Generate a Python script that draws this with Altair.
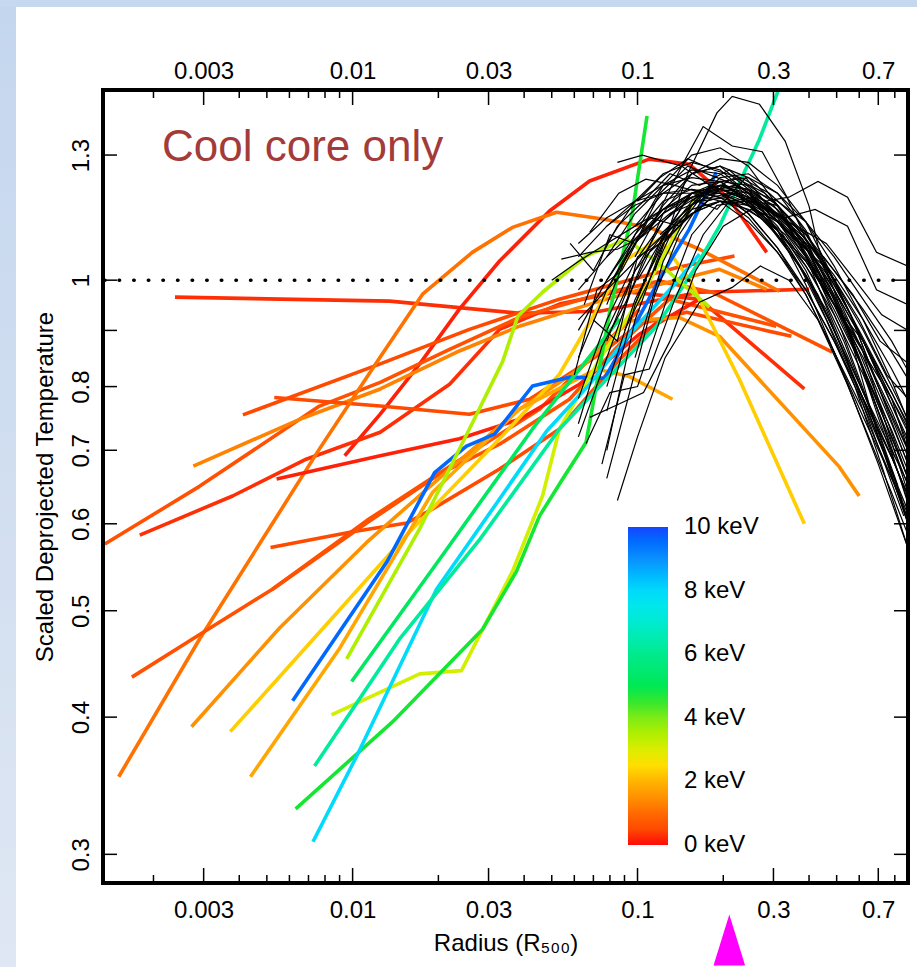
import altair as alt
import pandas as pd

# ---------------- axes / scale values ----------------
X_DOMAIN = [0.00133, 0.89]
Y_DOMAIN = [0.2825, 1.49]
X_LABELS = [0.003, 0.01, 0.03, 0.1, 0.3, 0.7]
X_MINOR = [0.002, 0.004, 0.005, 0.006, 0.007, 0.008, 0.009, 0.02, 0.04, 0.05,
           0.06, 0.07, 0.08, 0.09, 0.2, 0.4, 0.5, 0.6, 0.8]
Y_LABELS = [0.3, 0.4, 0.5, 0.6, 0.7, 0.8, 1.0, 1.3]
Y_TICKS = [0.3, 0.4, 0.5, 0.6, 0.7, 0.8, 0.9, 1.0, 1.3]
KEV_LABELS = [0.001, 2, 4, 6, 8, 9.999]   # 0 ... 10 keV (nudged inside the bar ends)
KEV_STOPS = [0, 1, 2, 2.6, 3.2, 4.6, 6, 7.8, 9, 10]
KEV_COLOURS = ["#ff0a0a", "#ff6a00", "#ffb400", "#ffe600", "#c8f000",
               "#14e632", "#00ea8c", "#00e6f5", "#0a90ff", "#1446ff"]
UNITY = [1.0]
ARROW_R = [0.21]

# ---------------- cool-core profiles: (kT keV, radius, scaled T) ----------------
cc_A = (0.2, [0.00238, 0.01348, 0.0385, 0.0736, 0.165, 0.40],
        [0.965, 0.957, 0.933, 0.937, 0.975, 0.981])
cc_B = (0.1, [0.00938, 0.0125, 0.0172, 0.0237, 0.0328, 0.0491, 0.0679, 0.110, 0.152, 0.210, 0.284],
        [0.692, 0.755, 0.839, 0.941, 1.041, 1.156, 1.231, 1.289, 1.275, 1.185, 1.06])
cc_C = (0.2, [0.00179, 0.00379, 0.00687, 0.0125, 0.0219, 0.0328, 0.0532, 0.0865, 0.165, 0.385],
        [0.586, 0.636, 0.687, 0.727, 0.804, 0.902, 0.951, 0.977, 0.961, 0.796])
cc_D = (0.6, [0.00135, 0.0029, 0.00765, 0.0125, 0.0219, 0.0385, 0.0736, 0.1195, 0.183, 0.483],
        [0.575, 0.649, 0.768, 0.807, 0.865, 0.925, 0.971, 0.998, 0.975, 0.860])
cc_E = (0.5, [0.00412, 0.0125, 0.0257, 0.0532, 0.1016, 0.140, 0.219],
        [0.754, 0.839, 0.902, 0.961, 1.006, 1.028, 1.052])
cc_F = (1.3, [0.00276, 0.00652, 0.0125, 0.0237, 0.0385, 0.0736, 0.110, 0.194, 0.284],
        [0.677, 0.747, 0.796, 0.862, 0.908, 0.957, 0.986, 1.023, 0.981])
cc_G = (0.5, [0.00531, 0.0125, 0.0257, 0.0418, 0.0736, 0.1016, 0.1486, 0.347],
        [0.782, 0.768, 0.755, 0.779, 0.856, 0.912, 0.935, 0.889])
cc_H = (1.1, [0.00151, 0.0029, 0.00765, 0.0125, 0.0176, 0.0263, 0.0364, 0.052, 0.0754, 0.110, 0.165, 0.315],
        [0.353, 0.471, 0.702, 0.851, 0.971, 1.060, 1.117, 1.153, 1.137, 1.117, 1.067, 0.977])
cc_I = (0.6, [0.00168, 0.00315, 0.00523, 0.0112, 0.0191, 0.0272, 0.0453, 0.0736, 0.1016],
        [0.435, 0.482, 0.523, 0.604, 0.661, 0.702, 0.763, 0.865, 0.941])
cc_X = (0.5, [0.00515, 0.01, 0.0155, 0.0191, 0.0328, 0.0532, 0.0865, 0.1195],
        [0.571, 0.590, 0.601, 0.619, 0.673, 0.732, 0.847, 0.922])
cc_Y = (0.6, [0.00523, 0.0112, 0.0202, 0.0328, 0.0577, 0.0865, 0.1295, 0.307],
        [0.523, 0.601, 0.666, 0.709, 0.779, 0.874, 0.961, 0.908])
cc_J = (0.1, [0.00541, 0.0125, 0.0237, 0.0385, 0.0626, 0.1016, 0.165],
        [0.659, 0.692, 0.717, 0.747, 0.804, 0.893, 0.961])
cc_K = (1.5, [0.00272, 0.00553, 0.0112, 0.0219, 0.0385, 0.0626, 0.0937, 0.140, 0.194, 0.511, 0.60],
        [0.392, 0.482, 0.577, 0.673, 0.763, 0.830, 0.918, 0.925, 0.889, 0.676, 0.636])
cc_L = (2.3, [0.00372, 0.01585, 0.0328, 0.0532, 0.0915, 0.1195, 0.152, 0.228, 0.385],
        [0.388, 0.590, 0.717, 0.821, 1.045, 1.090, 1.002, 0.812, 0.600])
cc_M = (1.8, [0.00438, 0.0090, 0.0191, 0.0385, 0.0718, 0.0937, 0.1327],
        [0.353, 0.462, 0.641, 0.763, 0.830, 0.817, 0.779])
cc_N = (9.6, [0.00616, 0.0132, 0.0194, 0.0251, 0.0315, 0.0428, 0.0577, 0.0766, 0.096, 0.1195, 0.152, 0.189],
        [0.414, 0.554, 0.668, 0.706, 0.724, 0.801, 0.816, 0.814, 0.902, 1.002, 1.113, 1.254])
cc_O = (3.1, [0.00843, 0.0172, 0.0241, 0.0364, 0.0464, 0.0532, 0.0736, 0.1016, 0.152, 0.165],
        [0.402, 0.438, 0.441, 0.543, 0.636, 0.732, 0.847, 0.961, 1.161, 1.210])
cc_P = (4.6, [0.00631, 0.0138, 0.0286, 0.0376, 0.0453, 0.0546, 0.066, 0.0798, 0.096, 0.108],
        [0.330, 0.396, 0.481, 0.543, 0.610, 0.659, 0.712, 0.935, 1.153, 1.411])
cc_Q = (8.0, [0.00726, 0.0103, 0.0197, 0.031, 0.048, 0.0679, 0.0937, 0.140, 0.165],
        [0.308, 0.368, 0.523, 0.619, 0.729, 0.804, 0.893, 1.002, 1.056])
cc_R = (6.2, [0.00735, 0.0146, 0.028, 0.0532, 0.0798, 0.1166, 0.161, 0.194, 0.268, 0.328],
        [0.361, 0.471, 0.581, 0.732, 0.818, 0.908, 1.030, 1.120, 1.344, 1.54])
cc_S = (5.2, [0.00992, 0.0202, 0.0428, 0.0626, 0.0865],
        [0.431, 0.557, 0.732, 0.830, 0.922])
cc_T = (3.5, [0.00953, 0.0172, 0.0257, 0.0336, 0.038, 0.0464, 0.066, 0.0915, 0.1195, 0.179],
        [0.452, 0.594, 0.732, 0.843, 0.927, 0.975, 1.052, 1.090, 1.034, 0.945])

COOL_CORE = [cc_A, cc_B, cc_C, cc_D, cc_E, cc_F, cc_G, cc_H, cc_I, cc_X, cc_Y,
             cc_J, cc_K, cc_L, cc_M, cc_N, cc_O, cc_P, cc_Q, cc_R, cc_S, cc_T]

# ---------------- comparison sample (thin black) on a common radial grid ----------------
GRID = [0.05, 0.062, 0.078, 0.098, 0.123, 0.155, 0.195, 0.245, 0.31, 0.39, 0.49, 0.62, 0.78, 0.98]
b01 = [None, None, 0.98, 1.08, 1.16, 1.22, 1.23, 1.18, 1.11, 1.03, 0.93, 0.82, 0.71, 0.61]
b02 = [None, 0.90, 1.00, 1.10, 1.18, 1.21, 1.20, 1.15, 1.07, 0.98, 0.88, 0.77, 0.67, 0.58]
b03 = [None, None, 1.05, 1.15, 1.22, 1.26, 1.25, 1.20, 1.13, 1.05, 0.95, 0.85, 0.74, 0.64]
b04 = [None, None, None, 0.95, 1.10, 1.20, 1.22, 1.19, 1.12, 1.02, 0.90, 0.78, 0.67, 0.56]
b05 = [1.00, 1.04, 1.08, 1.12, 1.16, 1.19, 1.20, 1.17, 1.11, 1.04, 0.95, 0.88, 0.77, 0.68]
b06 = [None, 0.72, 0.85, 1.00, 1.15, 1.25, 1.27, 1.21, 1.11, 0.99, 0.86, 0.74, 0.64, 0.55]
b07 = [None, None, 1.12, 1.18, 1.22, 1.24, 1.23, 1.18, 1.10, 1.01, 0.90, 0.79, 0.70, 0.62]
b08 = [None, None, 0.70, 0.92, 1.08, 1.17, 1.21, 1.20, 1.15, 1.08, 0.98, 0.88, 0.79, 0.70]
b09 = [None, 1.05, 1.12, 1.17, 1.20, 1.21, 1.19, 1.14, 1.06, 0.97, 0.86, 0.76, 0.66, 0.57]
b10 = [None, None, 0.88, 1.02, 1.13, 1.20, 1.23, 1.22, 1.17, 1.09, 1.00, 0.90, 0.80, 0.71]
b11 = [None, None, None, 1.12, 1.20, 1.25, 1.27, 1.24, 1.17, 1.07, 0.95, 0.83, 0.72, 0.62]
b12 = [None, 0.92, 0.98, 1.04, 1.10, 1.15, 1.18, 1.17, 1.13, 1.07, 0.98, 0.88, 0.78, 0.69]
b13 = [None, None, 0.95, 1.10, 1.22, 1.30, 1.32, 1.27, 1.17, 1.05, 0.91, 0.79, 0.69, 0.60]
b14 = [None, None, 0.80, 0.96, 1.08, 1.15, 1.18, 1.18, 1.15, 1.10, 1.02, 0.94, 0.86, 0.78]
b15 = [None, 1.08, 1.14, 1.18, 1.20, 1.20, 1.18, 1.13, 1.06, 0.98, 0.88, 0.78, 0.69, 0.60]
b16 = [None, None, 0.98, 1.08, 1.15, 1.19, 1.21, 1.19, 1.15, 1.09, 1.01, 0.92, 0.83, 0.74]
b17 = [None, None, None, 0.85, 1.04, 1.17, 1.24, 1.25, 1.20, 1.11, 0.98, 0.86, 0.75, 0.65]
b18 = [None, 0.78, 0.92, 1.04, 1.13, 1.19, 1.22, 1.20, 1.14, 1.05, 0.94, 0.83, 0.73, 0.63]
b19 = [None, None, 1.08, 1.18, 1.25, 1.28, 1.26, 1.20, 1.11, 1.01, 0.89, 0.78, 0.69, 0.60]
b20 = [None, None, 0.76, 0.95, 1.09, 1.18, 1.23, 1.24, 1.20, 1.13, 1.03, 0.92, 0.81, 0.70]
b21 = [None, 0.98, 1.05, 1.11, 1.16, 1.20, 1.22, 1.21, 1.16, 1.08, 0.97, 0.86, 0.76, 0.66]
b22 = [None, None, 0.90, 1.02, 1.10, 1.16, 1.18, 1.16, 1.11, 1.04, 0.95, 0.86, 0.78, 0.70]
b23 = [None, None, None, 1.05, 1.17, 1.25, 1.29, 1.28, 1.22, 1.13, 1.00, 0.88, 0.77, 0.67]
b24 = [None, 0.85, 0.98, 1.09, 1.16, 1.20, 1.20, 1.15, 1.07, 0.97, 0.86, 0.75, 0.66, 0.58]
b25 = [None, None, 1.00, 1.09, 1.15, 1.20, 1.22, 1.21, 1.18, 1.13, 1.05, 0.96, 0.88, 0.79]
GRID_PROFILES = [b01, b02, b03, b04, b05, b06, b07, b08, b09, b10, b11, b12, b13,
                 b14, b15, b16, b17, b18, b19, b20, b21, b22, b23, b24, b25]

# irregular comparison profiles: (radius, scaled T)
o01 = ([0.115, 0.15, 0.19, 0.215, 0.268, 0.33, 0.40, 0.43, 0.55, 0.70, 0.89],
       [1.02, 1.25, 1.42, 1.47, 1.446, 1.338, 1.168, 1.074, 0.90, 0.72, 0.60])
o02 = ([0.11, 0.146, 0.17, 0.215, 0.274, 0.333, 0.40, 0.555, 0.70, 0.89],
       [1.11, 1.284, 1.38, 1.325, 1.309, 1.193, 1.074, 0.90, 0.75, 0.63])
o03 = ([0.16, 0.22, 0.28, 0.34, 0.43, 0.546, 0.69, 0.89],
       [1.20, 1.22, 1.18, 1.19, 1.23, 1.19, 1.06, 1.03])
o04 = ([0.20, 0.26, 0.33, 0.42, 0.546, 0.69, 0.89],
       [1.20, 1.17, 1.14, 1.16, 1.12, 0.98, 0.95])
o05 = ([0.085, 0.10, 0.125, 0.165, 0.215, 0.27, 0.34, 0.43, 0.55, 0.70, 0.89],
       [0.63, 0.72, 0.85, 0.955, 0.985, 1.03, 1.00, 0.92, 0.80, 0.68, 0.57])
o06 = ([0.085, 0.104, 0.143, 0.18, 0.23, 0.29, 0.37, 0.46, 0.58, 0.73, 0.89],
       [1.28, 1.30, 1.27, 1.22, 1.19, 1.12, 1.03, 0.92, 0.80, 0.67, 0.57])
o07 = ([0.054, 0.068, 0.085, 0.104, 0.13, 0.165, 0.21, 0.26, 0.33, 0.42, 0.53, 0.67, 0.85],
       [1.045, 1.06, 1.067, 1.096, 1.15, 1.18, 1.19, 1.16, 1.10, 1.00, 0.88, 0.75, 0.63])
o08 = ([0.068, 0.086, 0.107, 0.135, 0.17, 0.215, 0.27, 0.34, 0.43, 0.54, 0.68, 0.86],
       [1.106, 1.20, 1.236, 1.22, 1.20, 1.18, 1.14, 1.07, 0.97, 0.85, 0.72, 0.61])
o09 = ([0.066, 0.08, 0.10, 0.125, 0.155, 0.19, 0.24, 0.30, 0.38, 0.48, 0.60, 0.75, 0.90],
       [0.71, 0.79, 0.80, 0.95, 1.10, 1.17, 1.18, 1.14, 1.07, 0.97, 0.85, 0.72, 0.62])
o10 = ([0.068, 0.085, 0.105, 0.13, 0.16, 0.20, 0.25, 0.32, 0.40, 0.50, 0.63, 0.80],
       [0.75, 0.77, 0.79, 0.88, 1.02, 1.12, 1.16, 1.13, 1.06, 0.95, 0.82, 0.69])
o11 = ([0.075, 0.09, 0.11, 0.135, 0.17, 0.21, 0.26, 0.33, 0.41, 0.52, 0.65, 0.82],
       [0.68, 0.82, 0.83, 0.96, 1.10, 1.18, 1.19, 1.13, 1.03, 0.90, 0.77, 0.65])
o12 = ([0.13, 0.17, 0.22, 0.28, 0.36, 0.46, 0.58, 0.72, 0.89],
       [1.15, 1.20, 1.21, 1.16, 1.12, 1.08, 1.00, 0.93, 0.90])
o13 = ([0.12, 0.16, 0.21, 0.27, 0.35, 0.45, 0.57, 0.71, 0.89],
       [1.10, 1.18, 1.20, 1.17, 1.10, 1.05, 0.97, 0.88, 0.84])
o14 = ([0.10, 0.13, 0.17, 0.22, 0.29, 0.37, 0.47, 0.60, 0.75, 0.89],
       [1.00, 1.12, 1.20, 1.22, 1.15, 1.08, 1.02, 0.92, 0.82, 0.78])
o15 = ([0.06, 0.072, 0.088, 0.11, 0.14, 0.18, 0.23, 0.29, 0.37, 0.47, 0.60, 0.76, 0.89],
       [0.82, 0.98, 1.02, 1.14, 1.12, 1.22, 1.19, 1.16, 1.06, 0.99, 0.86, 0.74, 0.66])
o16 = ([0.07, 0.085, 0.10, 0.12, 0.15, 0.19, 0.24, 0.30, 0.38, 0.48, 0.61, 0.77, 0.89],
       [0.92, 0.88, 1.05, 1.08, 1.19, 1.16, 1.24, 1.15, 1.09, 0.96, 0.87, 0.72, 0.64])
o17 = ([0.058, 0.07, 0.085, 0.105, 0.13, 0.165, 0.21, 0.27, 0.34, 0.43, 0.55, 0.70, 0.89],
       [1.08, 1.02, 1.12, 1.18, 1.25, 1.22, 1.26, 1.19, 1.12, 1.01, 0.90, 0.77, 0.66])
o18 = ([0.078, 0.095, 0.115, 0.14, 0.175, 0.22, 0.28, 0.35, 0.44, 0.56, 0.70, 0.89],
       [0.66, 0.80, 0.97, 1.10, 1.20, 1.24, 1.20, 1.13, 1.04, 0.93, 0.80, 0.68])
o19 = ([0.065, 0.08, 0.098, 0.12, 0.15, 0.19, 0.24, 0.30, 0.38, 0.48, 0.60, 0.76, 0.89],
       [0.95, 1.10, 1.08, 1.20, 1.27, 1.24, 1.21, 1.17, 1.08, 1.00, 0.90, 0.80, 0.74])
o20 = ([0.09, 0.11, 0.135, 0.165, 0.20, 0.25, 0.31, 0.39, 0.49, 0.62, 0.78, 0.89],
       [0.90, 1.00, 1.12, 1.16, 1.22, 1.18, 1.17, 1.10, 1.00, 0.88, 0.78, 0.70])
o21 = ([0.062, 0.075, 0.09, 0.11, 0.14, 0.175, 0.22, 0.28, 0.36, 0.46, 0.58, 0.73, 0.89],
       [0.74, 0.87, 0.95, 1.06, 1.12, 1.18, 1.20, 1.14, 1.04, 0.94, 0.81, 0.70, 0.60])
o22 = ([0.10, 0.12, 0.15, 0.185, 0.23, 0.29, 0.36, 0.45, 0.56, 0.70, 0.89],
       [1.18, 1.24, 1.29, 1.26, 1.24, 1.20, 1.14, 1.04, 0.93, 0.80, 0.70])
IRREGULAR = [o01, o02, o03, o04, o05, o06, o07, o08, o09, o10, o11,
             o12, o13, o14, o15, o16, o17, o18, o19, o20, o21, o22]

# ---------------- tables ----------------
col_rows = []
for i, (kt, rs, ts) in enumerate(COOL_CORE):
    for r, t in zip(rs, ts):
        col_rows.append({"id": f"c{i:02d}", "r": r, "t": t, "kev": kt})
df_col = pd.DataFrame(col_rows)

blk_rows = []
for j, ys in enumerate(GRID_PROFILES):
    for r, t in zip(GRID, ys):
        if t is not None:
            blk_rows.append({"id": f"g{j:02d}", "r": r, "t": t})
for j, (rs, ts) in enumerate(IRREGULAR):
    for r, t in zip(rs, ts):
        blk_rows.append({"id": f"o{j:02d}", "r": r, "t": t})
df_blk = pd.DataFrame(blk_rows)

# ---------------- layout ----------------
W, H = 805, 793
PAD = {"left": 103, "top": 90, "right": 9, "bottom": 84}
FONT = "Liberation Sans"
STRIP = "#c6d8ef"

xs = alt.Scale(type="log", domain=X_DOMAIN, nice=False)
ys = alt.Scale(type="log", domain=Y_DOMAIN, nice=False)
cs = alt.Scale(domain=KEV_STOPS, range=KEV_COLOURS)

one = pd.DataFrame({"k": [0]})

top_strip = alt.Chart(one).mark_rect(fill=STRIP, clip=False).encode(
    x=alt.value(-103), x2=alt.value(W + 9), y=alt.value(-90), y2=alt.value(-83))

left_strip = alt.Chart(one).mark_rect(
    clip=False,
    fill=alt.Gradient(gradient="linear", x1=0, x2=0, y1=0, y2=1,
                      stops=[alt.GradientStop(color="#c4d6ee", offset=0),
                             alt.GradientStop(color="#dfe7f3", offset=1)])
).encode(x=alt.value(-103), x2=alt.value(-87), y=alt.value(-83), y2=alt.value(H + 84))

coloured = alt.Chart(df_col).mark_line(strokeWidth=3.6, clip=True, strokeJoin="round").encode(
    x=alt.X("r:Q", scale=xs, axis=alt.Axis(
        orient="bottom", values=X_LABELS, format="~g", ticks=False, domain=False, grid=False,
        labelFontSize=24, labelPadding=15, labelFlush=False, labelColor="black", labelFont=FONT,
        title="Radius (R₅₀₀)", titleFontSize=24, titleFontWeight="normal", titleFont=FONT,
        titlePadding=9, titleColor="black", zindex=2)),
    y=alt.Y("t:Q", scale=ys, axis=alt.Axis(
        orient="left", values=Y_LABELS, format="~g", ticks=False, domain=False, grid=False,
        labelFontSize=24, labelAngle=270, labelAlign="center", labelBaseline="bottom",
        labelPadding=10, labelColor="black", labelFont=FONT, labelFlush=False,
        title="Scaled Deprojected Temperature", titleFontSize=24, titleFontWeight="normal",
        titleFont=FONT, titlePadding=12, titleColor="black", zindex=2)),
    color=alt.Color("kev:Q", scale=cs, legend=alt.Legend(
        orient="none", legendX=525, legendY=437, direction="vertical", title=None,
        gradientLength=318, gradientThickness=40, gradientStrokeWidth=0,
        values=KEV_LABELS, labelExpr="format(datum.value, '.0f') + ' keV'", labelFontSize=24,
        labelFont=FONT, labelColor="black", labelOffset=16, labelBaseline="middle")),
    detail="id:N",
)

black = alt.Chart(df_blk).mark_line(strokeWidth=1.2, color="black", clip=True).encode(
    x=alt.X("r:Q", scale=xs, axis=alt.Axis(
        orient="top", values=X_LABELS, format="~g", ticks=False, domain=False, grid=False,
        labelFontSize=24, labelPadding=7, labelFlush=False, labelColor="black",
        labelFont=FONT, title=None, zindex=2)),
    y=alt.Y("t:Q", scale=ys, axis=None),
    detail="id:N",
)

dots = alt.Chart(pd.DataFrame({"t": UNITY})).mark_rule(
    color="black", strokeWidth=3.5, strokeDash=[0.5, 14.1], strokeCap="round"
).encode(y=alt.Y("t:Q", scale=ys, axis=None))

xmaj = pd.DataFrame({"v": X_LABELS})
xmin = pd.DataFrame({"v": X_MINOR})
ytk = pd.DataFrame({"v": Y_TICKS})


def xticks(df, y0, y1):
    return alt.Chart(df).mark_rule(color="black", strokeWidth=1.5).encode(
        x=alt.X("v:Q", scale=xs, axis=None), y=alt.value(y0), y2=alt.value(y1))


def yticks(x0, x1):
    return alt.Chart(ytk).mark_rule(color="black", strokeWidth=1.5).encode(
        y=alt.Y("v:Q", scale=ys, axis=None), x=alt.value(x0), x2=alt.value(x1))


ticks = [
    xticks(xmaj, H, H - 15), xticks(xmin, H, H - 8),
    xticks(xmaj, 0, 15), xticks(xmin, 0, 8),
    yticks(0, 14), yticks(W, W - 14),
]

frame = alt.Chart(one).mark_rect(fill=None, stroke="black", strokeWidth=4, clip=False).encode(
    x=alt.value(0), x2=alt.value(W), y=alt.value(0), y2=alt.value(H))

label = alt.Chart(one).mark_text(
    text="Cool core only", align="left", baseline="middle", fontSize=44,
    color="#a33b3b", font=FONT
).encode(x=alt.value(59), y=alt.value(58))

arrow = alt.Chart(pd.DataFrame({"r": ARROW_R})).mark_point(
    shape="M0,-1L0.62,1L-0.62,1Z", filled=True, color="#ff00ff", opacity=1,
    size=2601, clip=False, strokeWidth=0
).encode(x=alt.X("r:Q", scale=xs, axis=None), y=alt.value(H + 57))

chart = alt.layer(
    top_strip, left_strip, coloured, black, dots, *ticks, frame, label, arrow
).resolve_axis(x="independent", y="independent").properties(
    width=W, height=H, padding=PAD, autosize=alt.AutoSizeParams(type="none"),
    background="white",
).configure(font=FONT).configure_view(stroke=None)

chart.save("out.html", embed_options={"renderer": "svg", "actions": False})
